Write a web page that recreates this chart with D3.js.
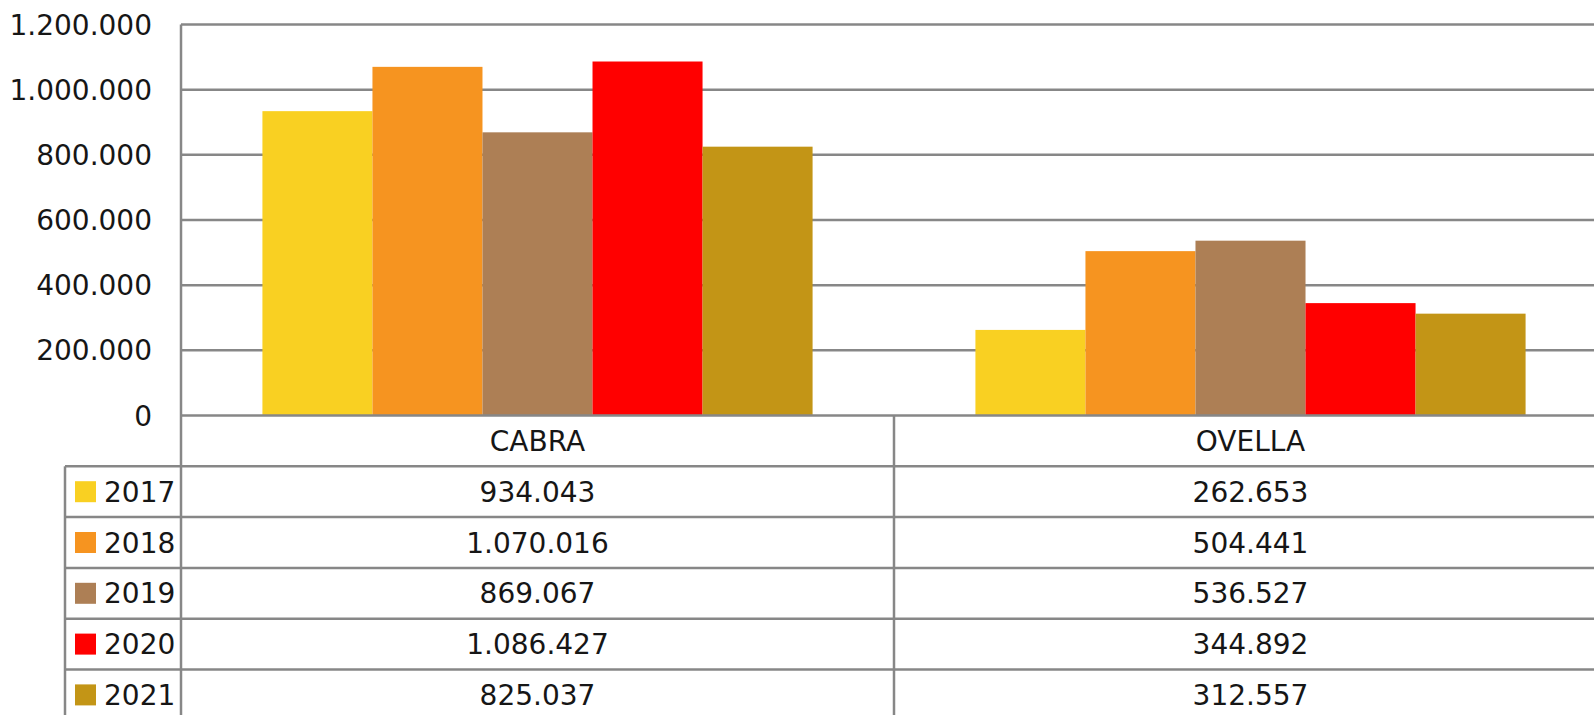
<!DOCTYPE html>
<html>
<head>
<meta charset="utf-8">
<script src="https://cdn.jsdelivr.net/npm/d3@7"></script>
<style>
  body { margin: 0; background: #fff; }
  text { font-family: "DejaVu Sans", sans-serif; fill: #161616; }
</style>
</head>
<body>
<div id="chart"></div>
<script>
// chart data
const categories = ["CABRA", "OVELLA"];
const years = ["2017", "2018", "2019", "2020", "2021"];
const cabra = [934043, 1070016, 869067, 1086427, 825037];
const ovella = [262653, 504441, 536527, 344892, 312557];
const yTicks = [0, 200000, 400000, 600000, 800000, 1000000, 1200000];
const colors = ["#f9d022", "#f69420", "#ad7f55", "#ff0000", "#c39516"];

const width = 1594;
const height = 715;
const plotLeft = 181, plotRight = 1607; // right side is cut off like in the original
const plotTop = 24.5, plotBottom = 415.5;
const legendLeft = 65;
const rowH = 50.8;
const lineColor = "#878787";
const lineW = 2.5;
const fontSize = "28px";

const locale = d3.formatLocale({ decimal: ",", thousands: ".", grouping: [3], currency: ["", "€"] });
const fmt = locale.format(",d");

const svg = d3.select("#chart").append("svg")
    .attr("width", width)
    .attr("height", height);

const y = d3.scaleLinear().domain([0, 1200000]).range([plotBottom, plotTop]);
const x0 = d3.scaleBand().domain(categories).range([plotLeft, plotRight]).padding(0);
const x1 = d3.scaleBand().domain(years).range([0, x0.bandwidth()]).paddingInner(0).paddingOuter(0.74);

const series = { CABRA: cabra, OVELLA: ovella };

// gridlines
svg.append("g")
    .selectAll("line")
    .data(yTicks.slice(1))
    .enter().append("line")
    .attr("x1", plotLeft).attr("x2", plotRight)
    .attr("y1", d => y(d)).attr("y2", d => y(d))
    .attr("stroke", lineColor).attr("stroke-width", lineW);

// y labels
svg.append("g")
    .selectAll("text")
    .data(yTicks)
    .enter().append("text")
    .attr("x", 152)
    .attr("y", d => y(d))
    .attr("dy", "0.36em")
    .attr("text-anchor", "end")
    .style("font-size", fontSize)
    .text(d => fmt(d));

// bars
categories.forEach(cat => {
    svg.append("g")
        .attr("transform", `translate(${x0(cat)},0)`)
        .selectAll("rect")
        .data(series[cat].map((v, i) => ({ year: years[i], value: v, i: i })))
        .enter().append("rect")
        .attr("x", d => x1(d.year))
        .attr("width", x1.bandwidth())
        .attr("y", d => y(d.value))
        .attr("height", d => y(0) - y(d.value))
        .attr("fill", d => colors[d.i]);
});

// data table
const tableTop = plotBottom;
const headerBottom = tableTop + rowH;
const tbl = svg.append("g");

// horizontal lines
tbl.append("line")
    .attr("x1", plotLeft).attr("x2", plotRight)
    .attr("y1", tableTop).attr("y2", tableTop)
    .attr("stroke", lineColor).attr("stroke-width", lineW);
tbl.selectAll("line.row")
    .data(d3.range(years.length + 1))
    .enter().append("line")
    .attr("class", "row")
    .attr("x1", legendLeft).attr("x2", plotRight)
    .attr("y1", d => headerBottom + d * rowH).attr("y2", d => headerBottom + d * rowH)
    .attr("stroke", lineColor).attr("stroke-width", lineW);

// vertical lines
tbl.append("line")
    .attr("x1", plotLeft).attr("x2", plotLeft)
    .attr("y1", plotTop).attr("y2", height)
    .attr("stroke", lineColor).attr("stroke-width", lineW);
tbl.append("line")
    .attr("x1", legendLeft).attr("x2", legendLeft)
    .attr("y1", headerBottom).attr("y2", height)
    .attr("stroke", lineColor).attr("stroke-width", lineW);
tbl.append("line")
    .attr("x1", x0("OVELLA")).attr("x2", x0("OVELLA"))
    .attr("y1", tableTop).attr("y2", height)
    .attr("stroke", lineColor).attr("stroke-width", lineW);

// category headers
tbl.selectAll("text.cat")
    .data(categories)
    .enter().append("text")
    .attr("class", "cat")
    .attr("x", d => x0(d) + x0.bandwidth() / 2)
    .attr("y", tableTop + rowH / 2)
    .attr("dy", "0.36em")
    .attr("text-anchor", "middle")
    .style("font-size", fontSize)
    .text(d => d);

// legend keys + values
years.forEach((yr, i) => {
    const cy = headerBottom + i * rowH + rowH / 2;
    tbl.append("rect")
        .attr("x", 75).attr("y", cy - 10.5)
        .attr("width", 21).attr("height", 21)
        .attr("fill", colors[i]);
    tbl.append("text")
        .attr("x", 104).attr("y", cy)
        .attr("dy", "0.36em")
        .style("font-size", fontSize)
        .text(yr);
    categories.forEach(cat => {
        tbl.append("text")
            .attr("x", x0(cat) + x0.bandwidth() / 2)
            .attr("y", cy)
            .attr("dy", "0.36em")
            .attr("text-anchor", "middle")
            .style("font-size", fontSize)
            .text(fmt(series[cat][i]));
    });
});
</script>
</body>
</html>
